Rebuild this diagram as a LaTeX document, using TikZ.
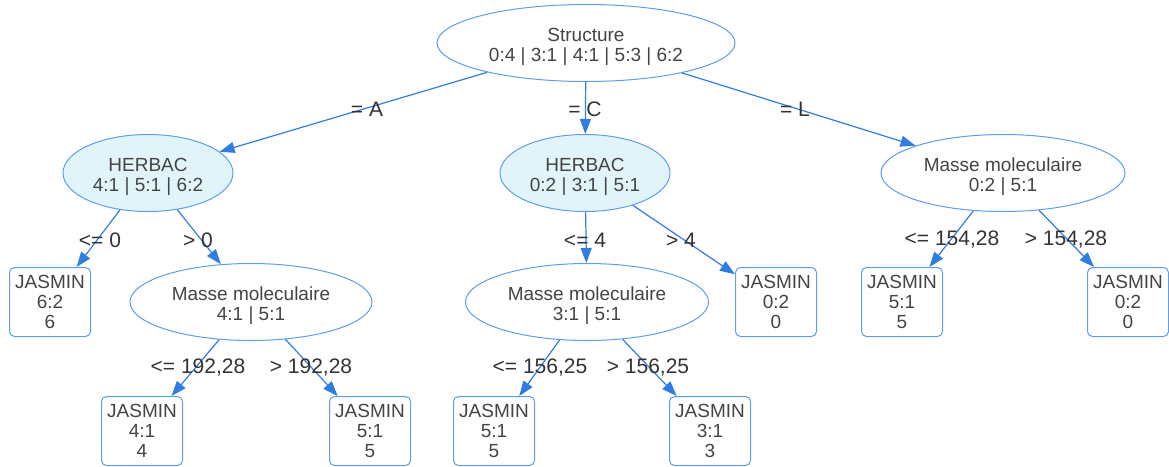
\documentclass[tikz,border=0pt]{standalone}
\usepackage{fontspec}
\setmainfont{Liberation Sans}
\usetikzlibrary{shapes.geometric,arrows.meta}
\definecolor{edgeblue}{HTML}{2F7DE1}
\definecolor{nodeblue}{HTML}{5C9EEB}
\definecolor{textgray}{HTML}{444444}
\definecolor{condgray}{HTML}{333333}
\definecolor{herbfill}{HTML}{E1F4FA}
\begin{document}
\begin{tikzpicture}[x=1pt,y=-1pt,
    font=\fontsize{19}{20}\selectfont, text=textgray,
    split/.style={ellipse, draw=nodeblue, line width=1pt, fill=white,
      inner sep=0pt, align=center, minimum height=77pt,
      text height=40pt, text depth=4pt},
    herbsplit/.style={split, fill=herbfill, minimum width=170pt},
    leaf/.style={rectangle, rounded corners=5pt, draw=nodeblue, line width=1pt,
      fill=white, align=center, minimum width=81pt, minimum height=69pt, inner sep=0pt},
    branch/.style={draw=edgeblue, line width=1.2pt, -{Triangle[length=15pt,width=11pt]}},
    cond/.style={inner sep=1pt, text=condgray, font=\fontsize{21}{22}\selectfont}]
        \useasboundingbox (0,0) rectangle (1169,466);

        % Root and first split
        \node[split, minimum width=298pt] (root) at (586,43) {Structure\\0:4 | 3:1 | 4:1 | 5:3 | 6:2};
        \node[herbsplit] (herbA) at (148,173) {HERBAC\\4:1 | 5:1 | 6:2};
        \node[herbsplit] (herbC) at (585,173) {HERBAC\\0:2 | 3:1 | 5:1};
        \node[split, minimum width=244pt] (masseL) at (1003,173) {Masse moleculaire\\0:2 | 5:1};

        % Second level
        \node[leaf] (jasA0) at (50,302) {JASMIN\\6:2\\6};
        \node[split, minimum width=242pt] (masseA) at (251,302) {Masse moleculaire\\4:1 | 5:1};
        \node[split, minimum width=243pt] (masseC) at (587,302) {Masse moleculaire\\3:1 | 5:1};
        \node[leaf] (jasC4) at (776,302) {JASMIN\\0:2\\0};
        \node[leaf] (jasL1) at (902,302) {JASMIN\\5:1\\5};
        \node[leaf] (jasL2) at (1128,302) {JASMIN\\0:2\\0};

        % Third level
        \node[leaf] (jasA1) at (142,431) {JASMIN\\4:1\\4};
        \node[leaf] (jasA2) at (370,431) {JASMIN\\5:1\\5};
        \node[leaf] (jasC1) at (494,431) {JASMIN\\5:1\\5};
        \node[leaf] (jasC2) at (710,431) {JASMIN\\3:1\\3};

        % Branches
        \draw[branch] (root) -- (herbA);
        \draw[branch] (root) -- (herbC);
        \draw[branch] (root) -- (masseL);
        \draw[branch] (herbA) -- (jasA0);
        \draw[branch] (herbA) -- (masseA);
        \draw[branch] (herbC) -- (masseC);
        \draw[branch] (herbC) -- (jasC4);
        \draw[branch] (masseL) -- (jasL1);
        \draw[branch] (masseL) -- (jasL2);
        \draw[branch] (masseA) -- (jasA1);
        \draw[branch] (masseA) -- (jasA2);
        \draw[branch] (masseC) -- (jasC1);
        \draw[branch] (masseC) -- (jasC2);

        % Conditions
        \node[cond] (condA) at (367,109) {= A};
        \node[cond] (condC) at (585,109) {= C};
        \node[cond] (condL) at (795,109) {= L};
        \node[cond] (condA0) at (100,240) {<= 0};
        \node[cond] (condA1) at (198,240) {> 0};
        \node[cond] (condC0) at (585,240) {<= 4};
        \node[cond] (condC1) at (681,240) {> 4};
        \node[cond] (condL0) at (952,240) {<= 154,28};
        \node[cond] (condL1) at (1066,240) {> 154,28};
        \node[cond] (condA2) at (198,368) {<= 192,28};
        \node[cond] (condA3) at (311,368) {> 192,28};
        \node[cond] (condC2) at (540,368) {<= 156,25};
        \node[cond] (condC3) at (648,368) {> 156,25};
      \end{tikzpicture}
\end{document}
